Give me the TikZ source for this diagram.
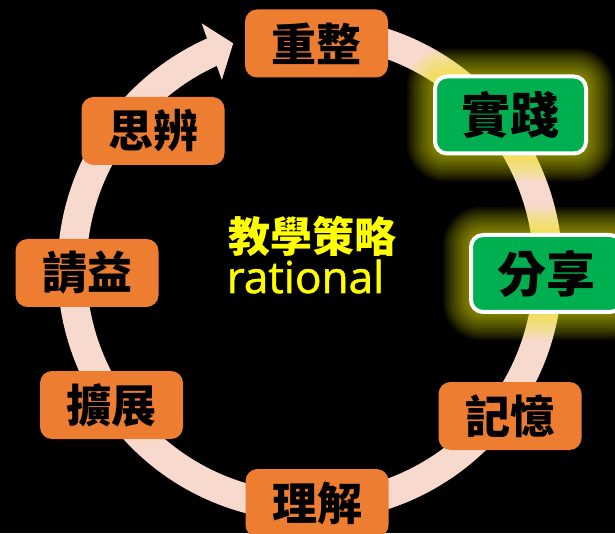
\documentclass[tikz,border=0pt]{standalone}
\usepackage{fontspec}
\newfontfamily\cjk{Noto Sans CJK TC}
\newfontfamily\latinf{Open Sans}[FakeBold=1.2]
\pgfdeclarelayer{ringlayer}
\pgfdeclarelayer{glowlayer}
\pgfsetlayers{ringlayer,glowlayer,main}
\definecolor{ringc}{HTML}{F8D9CE}
\definecolor{orangec}{HTML}{ED7D31}
\definecolor{greenc}{HTML}{00B050}
\definecolor{glowc}{HTML}{F2F000}
\definecolor{titlec}{HTML}{FFFF00}
\begin{document}
\begin{tikzpicture}[x=1pt,y=1pt,
  box/.style={rounded corners=12pt, fill=orangec, minimum width=143pt, minimum height=68pt,
    inner sep=0pt, text=black, font=\cjk\bfseries\fontsize{45pt}{45pt}\selectfont},
  greenbox/.style={box, fill=greenc, draw=white, line width=4pt, minimum width=151pt,
    minimum height=77pt, font=\cjk\bfseries\fontsize{49pt}{49pt}\selectfont},
  ring/.style={draw=ringc, line width=29pt},
  centertext/.style={text=titlec, inner sep=0pt}]
\begin{pgfonlayer}{ringlayer}
\fill[black] (0,0) rectangle (615,533);
\end{pgfonlayer}
\useasboundingbox (0,0) rectangle (615,533);
\coordinate (c) at (310,264);
% nodes
\node[box] (chongzheng) at (316.5,489.5) {重整};
\node[greenbox] (shijian) at (510.5,418) {實踐};
\node[greenbox] (fenxiang) at (546.5,259.5) {分享};
\node[box] (jiyi) at (510,117) {記憶};
\node[box] (lijie) at (317,30) {理解};
\node[box] (kuozhan) at (111.5,128) {擴展};
\node[box] (qingyi) at (87,260) {請益};
\node[box] (sibian) at (153,402) {思辨};
\node[centertext, font=\cjk\bfseries\fontsize{42pt}{42pt}\selectfont] (title) at (312.5,296.5) {教學策略};
\node[centertext, font=\latinf\fontsize{44pt}{44pt}\selectfont, anchor=base] (rat) at (305.5,240) {rational};
% ring with arrow
\begin{pgfonlayer}{ringlayer}
\draw[ring] ([shift={(80:238)}]c) arc[start angle=80, end angle=-246, radius=238pt];
\fill[ringc] ([shift={(113.8:268.5)}]c) -- ([shift={(108.8:238.4)}]c) -- ([shift={(115:208.6)}]c) -- cycle;
\end{pgfonlayer}
% glow
\begin{pgfonlayer}{glowlayer}
\foreach \n in {shijian,fenxiang}{
  \foreach \i in {1,...,13}{
    \pgfmathsetmacro\rr{12+2*\i}
    \fill[glowc, opacity=0.055, rounded corners=\rr pt]
      ([shift={(-2*\i,-2*\i)}]\n.south west) rectangle ([shift={(2*\i,2*\i)}]\n.north east);
  }
}
\end{pgfonlayer}
\end{tikzpicture}
\end{document}
